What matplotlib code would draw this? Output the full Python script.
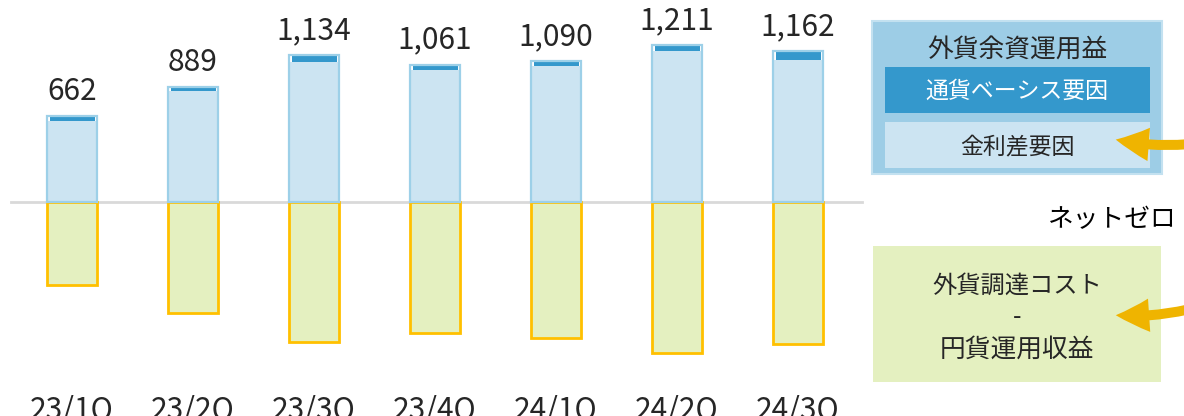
import matplotlib
matplotlib.use('Agg')
import matplotlib.pyplot as plt
from matplotlib.patches import Rectangle, FancyArrowPatch

plt.rcParams['font.family'] = ['Noto Sans CJK JP', 'DejaVu Sans']

quarters = ['23/1Q', '23/2Q', '23/3Q', '23/4Q', '24/1Q', '24/2Q', '24/3Q']
totals = [662, 889, 1134, 1061, 1090, 1211, 1162]          # 外貨余資運用益
basis = [35, 30, 50, 42, 42, 42, 65]                       # 通貨ベーシス要因
rate_diff = [t - b for t, b in zip(totals, basis)]          # 金利差要因
funding_net = [-641, -857, -1081, -1011, -1050, -1166, -1096]  # 外貨調達コスト - 円貨運用収益

light_blue = '#cce4f2'
edge_blue = '#9dd0e8'
dark_blue = '#3498cc'
green = '#e4f0c0'
gold = '#ffc000'
arrow_col = '#efb400'
txt = '#262626'

W, H = 1184, 416
fig = plt.figure(figsize=(W / 100, H / 100), dpi=100)
ax = fig.add_axes([0, 0, 1, 1])

# pixel layout: zero line at y=202 px from top, 7.72 units per px, bars every 121 px from x=72
upp = 7.72
ax.set_ylim(-(H - 202) * upp, 202 * upp)
ax.set_xlim(-72 / 121, (W - 72) / 121)
ax.axis('off')

x = range(len(quarters))
bw = 50 / 121
ax.bar(x, rate_diff, width=bw, color=light_blue, edgecolor='none', zorder=2)
ax.bar(x, basis, width=bw * 0.9, bottom=rate_diff, color=dark_blue, edgecolor='none', zorder=3)
ax.bar(x, totals, width=bw, fill=False, edgecolor=edge_blue, linewidth=1.6, zorder=4)
ax.bar(x, funding_net, width=bw, color=green, edgecolor=gold, linewidth=2, zorder=2)

ax.axhline(0, xmin=11 / W, xmax=862 / W, color='#d9d9d9', lw=2, zorder=1)

for i, t in enumerate(totals):
    ax.text(i, t + 16 * upp, f'{t:,}', ha='center', va='baseline', fontsize=21.5, color=txt)
for i, q in enumerate(quarters):
    ax.text(i, -(419 - 202) * upp, q, ha='center', va='baseline', fontsize=21.5, color=txt)


def fx(px):
    return px / W


def fy(py):
    return 1 - py / H


def box(x0, y0, x1, y1, color, ec='none', lw=0):
    fig.patches.append(Rectangle((fx(x0), fy(y1)), fx(x1) - fx(x0), fy(y0) - fy(y1),
                                 transform=fig.transFigure, facecolor=color, edgecolor=ec, linewidth=lw))


# legend boxes
box(872, 21, 1162, 174, '#9dcde6', ec='#c3e1f0', lw=1.5)
box(885, 67, 1150, 113, dark_blue)
box(885, 122, 1150, 168, light_blue)
box(873, 246, 1161, 382, green)

fig.text(fx(1017), fy(50), '外貨余資運用益', ha='center', va='center', fontsize=18.5, color=txt)
fig.text(fx(1017), fy(91), '通貨ベーシス要因', ha='center', va='center', fontsize=16.5, color='white')
fig.text(fx(1017), fy(147), '金利差要因', ha='center', va='center', fontsize=16.5, color=txt)
fig.text(fx(1112), fy(220), 'ネットゼロ', ha='center', va='center', fontsize=18.5, color='black')
fig.text(fx(1017), fy(286), '外貨調達コスト', ha='center', va='center', fontsize=17.5, color=txt)
fig.text(fx(1017), fy(317), '-', ha='center', va='center', fontsize=17.5, color=txt)
fig.text(fx(1017), fy(350), '円貨運用収益', ha='center', va='center', fontsize=18.5, color=txt)

for (x0, y0), (x1, y1) in [((1190, 144), (1113, 139)), ((1190, 309), (1113, 315))]:
    fig.patches.append(FancyArrowPatch((fx(x0), fy(y0)), (fx(x1), fy(y1)), transform=fig.transFigure,
                                       connectionstyle='arc3,rad=-0.08',
                                       arrowstyle='simple,head_length=1.5,head_width=1.5,tail_width=0.45',
                                       mutation_scale=16, color=arrow_col, lw=0))

fig.savefig('out.png', dpi=100)
